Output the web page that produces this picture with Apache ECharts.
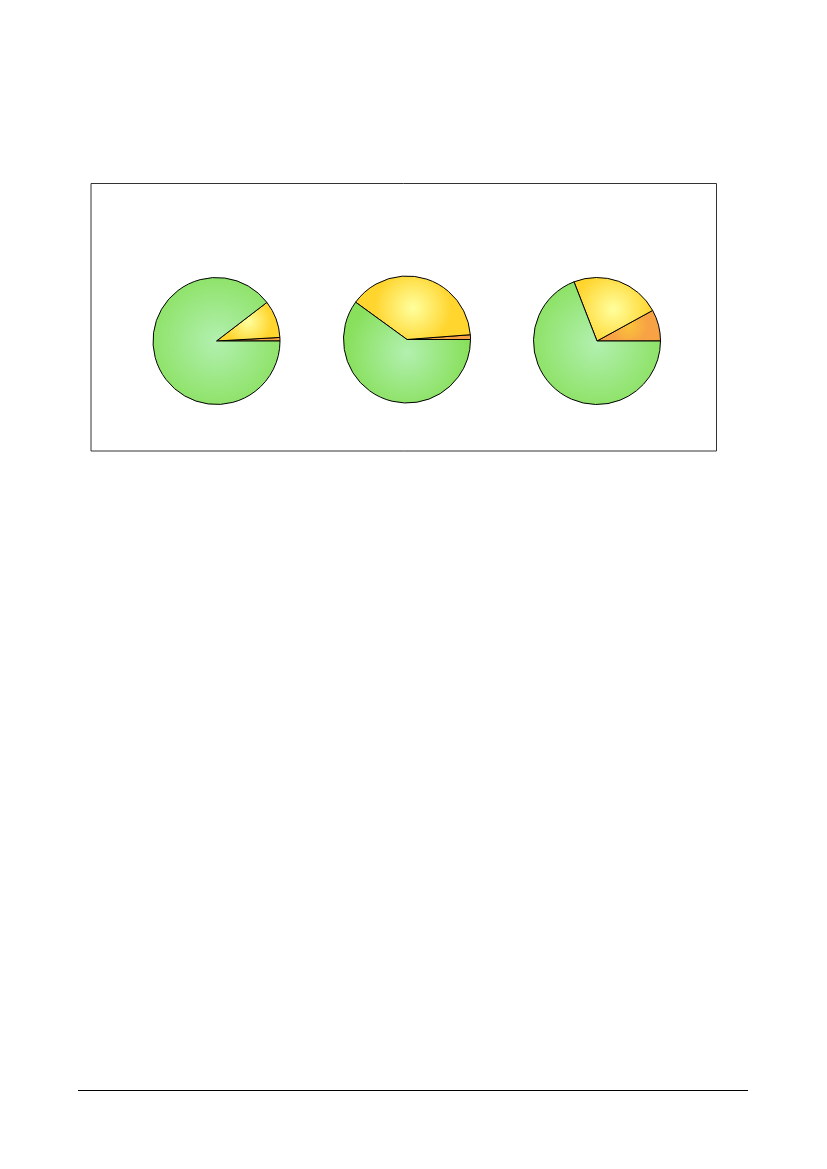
<!DOCTYPE html>
<html>
<head>
<meta charset="utf-8">
<script src="https://cdn.jsdelivr.net/npm/echarts@6/dist/echarts.min.js"></script>
<style>
html,body{margin:0;padding:0;background:#fff;}
#chart{width:827px;height:1169px;}
</style>
</head>
<body>
<div id="chart"></div>
<script>
// Slice order: starting at 3 o'clock, counter-clockwise
const categories = ['Orange', 'Yellow', 'Green'];
const pie1Values = [0.9, 9.5, 89.6];
const pie2Values = [1.2, 38.8, 60.0];
const pie3Values = [8.0, 22.9, 69.1];

const sliceColors = [
  { inner: '#fbc43a', outer: '#f7a245' },
  { inner: '#ffff9e', outer: '#ffd52e' },
  { inner: '#b2f0b0', outer: '#88e05c' }
];

function grad(c) {
  return {
    type: 'radial', x: 0.5, y: 0.5, r: 0.6,
    colorStops: [{ offset: 0, color: c.inner }, { offset: 1, color: c.outer }]
  };
}

function makeData(vals) {
  return vals.map((v, i) => ({
    name: categories[i], value: v,
    itemStyle: { color: grad(sliceColors[i]) }
  }));
}

function pieSeries(vals, cx, cy) {
  return {
    type: 'pie',
    center: [cx, cy],
    radius: [0, 63.5],
    startAngle: 0,
    clockwise: false,
    avoidLabelOverlap: false,
    label: { show: false },
    labelLine: { show: false },
    emphasis: { disabled: true },
    animation: false,
    itemStyle: { borderColor: '#000', borderWidth: 1 },
    data: makeData(vals)
  };
}

const chart = echarts.init(document.getElementById('chart'));
chart.setOption({
  backgroundColor: '#fff',
  animation: false,
  graphic: [
    { type: 'rect', shape: { x: 91, y: 183.5, width: 625.5, height: 267.5 },
      style: { fill: 'none', stroke: '#333', lineWidth: 1 } },
    { type: 'line', shape: { x1: 78, y1: 1090.5, x2: 748, y2: 1090.5 },
      style: { stroke: '#000', lineWidth: 1.2 } }
  ],
  series: [
    pieSeries(pie1Values, 216.5, 341),
    pieSeries(pie2Values, 407, 339.5),
    pieSeries(pie3Values, 597, 341)
  ]
});
</script>
</body>
</html>
